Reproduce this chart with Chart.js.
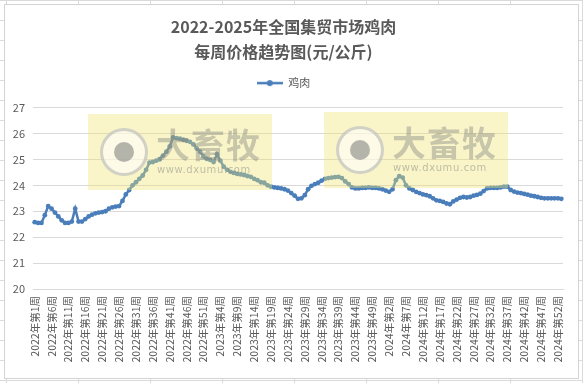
<!DOCTYPE html>
<html><head><meta charset="utf-8">
<script src="https://cdn.jsdelivr.net/npm/chart.js@4/dist/chart.umd.min.js"></script>
<style>
html,body{margin:0;padding:0;background:#fff;}
#wrap{position:relative;width:583px;height:383px;overflow:hidden;
  background-color:#fff;
  background-image:linear-gradient(to right, #dadada 1px, transparent 1px), linear-gradient(to bottom, #dadada 1px, transparent 1px);
  background-size:72px 20px;background-position:6px 0;}
#box{position:absolute;left:4px;top:4px;width:573px;height:373px;background:#fff;border:1px solid #d4d4d4;}
#c{position:absolute;left:0;top:0;}
.wm{position:absolute;width:184px;height:76px;background:rgba(238,228,110,0.38);pointer-events:none;}
.wm .ring{position:absolute;left:12px;top:14px;width:42px;height:42px;border-radius:50%;border:3px solid rgba(150,150,150,0.42);background:rgba(255,255,255,0.55);}
.wm .dot{position:absolute;left:11px;top:11px;width:20px;height:20px;border-radius:50%;background:rgba(110,110,110,0.5);}
.wm .big{position:absolute;left:68px;top:10px;font:bold 34px "Noto Sans CJK SC";color:rgba(120,120,120,0.38);letter-spacing:1px;line-height:40px;}
.wm .small{position:absolute;left:69px;top:50px;font:10px "DejaVu Sans";color:rgba(120,120,120,0.45);letter-spacing:0.6px;}
</style></head>
<body>
<div id="wrap">
<div id="box"></div>
<canvas id="c" width="583" height="383"></canvas>
<div class="wm" style="left:88px;top:114px"><div class="ring"><div class="dot"></div></div><div class="big">大畜牧</div><div class="small">www.dxumu.com</div></div>
<div class="wm" style="left:324px;top:112px"><div class="ring"><div class="dot"></div></div><div class="big">大畜牧</div><div class="small">www.dxumu.com</div></div>
</div>
<script>
const titleLines = ['2022-2025年全国集贸市场鸡肉', '每周价格趋势图(元/公斤)'];
const seriesName = '鸡肉';
const years = [2022, 2023, 2024, 2025];
const weeksPerYear = [52, 52, 52, 1];
const yTicks = [20, 21, 22, 23, 24, 25, 26, 27];
const chickenPrice = [
22.58,22.55,22.55,22.85,23.2,23.1,22.95,22.8,22.65,22.55,
22.55,22.6,23.1,22.6,22.6,22.7,22.8,22.87,22.92,22.95,
22.97,23.0,23.1,23.15,23.18,23.2,23.4,23.65,23.82,24.0,
24.12,24.25,24.38,24.6,24.88,24.9,24.95,25.0,25.15,25.3,
25.5,25.85,25.82,25.8,25.76,25.72,25.68,25.58,25.42,25.3,
25.12,25.02,24.98,24.9,25.2,24.95,24.72,24.6,24.52,24.48,
24.44,24.42,24.4,24.36,24.33,24.25,24.2,24.12,24.1,24.0,
23.95,23.92,23.9,23.88,23.85,23.8,23.7,23.6,23.48,23.5,
23.62,23.85,23.98,24.05,24.1,24.18,24.25,24.28,24.3,24.32,
24.33,24.28,24.15,24.05,23.92,23.88,23.88,23.9,23.9,23.92,
23.9,23.9,23.88,23.85,23.8,23.75,23.85,24.2,24.35,24.3,
24.0,23.88,23.82,23.75,23.7,23.65,23.62,23.58,23.5,23.42,
23.4,23.36,23.3,23.27,23.38,23.45,23.52,23.55,23.53,23.55,
23.6,23.63,23.68,23.78,23.88,23.9,23.9,23.9,23.92,23.95,
23.95,23.82,23.76,23.72,23.7,23.67,23.64,23.6,23.58,23.55,
23.52,23.5,23.5,23.5,23.5,23.5,23.48
];
const weekLabels = [];
years.forEach((y, k) => { for (let w = 1; w <= weeksPerYear[k]; w++) weekLabels.push(y + '年第' + w + '周'); });

const BLUE = '#4a7ebb';
const GRAY = '#595959';
const FONT = '"Noto Sans CJK SC", "Noto Sans", sans-serif';

const mk = document.createElement('canvas');
mk.width = 26; mk.height = 8;
const mc = mk.getContext('2d');
mc.strokeStyle = BLUE; mc.lineWidth = 2.5;
mc.beginPath(); mc.moveTo(0, 4); mc.lineTo(26, 4); mc.stroke();
mc.fillStyle = BLUE; mc.beginPath(); mc.arc(13, 4, 3, 0, Math.PI * 2); mc.fill();

const spacer = {
  id: 'spacer',
  start(chart) {
    Chart.layouts.addBox(chart, {
      position: 'top', weight: 0, fullSize: true,
      options: { stackWeight: 1 },
      top: 0, left: 0, right: 0, bottom: 0, width: 0, height: 0,
      isHorizontal() { return true; },
      update(maxWidth) { this.width = maxWidth; this.height = 9; },
      getPadding() { return { top: 0, left: 0, right: 0, bottom: 0 }; },
      draw() {}
    });
  }
};

new Chart(document.getElementById('c'), {
  type: 'line',
  data: {
    labels: weekLabels,
    datasets: [{
      label: seriesName,
      data: chickenPrice,
      borderColor: BLUE,
      backgroundColor: BLUE,
      borderWidth: 2.5,
      pointRadius: 2.4,
      pointBorderWidth: 0,
      pointBackgroundColor: BLUE,
      tension: 0
    }]
  },
  plugins: [spacer],
  options: {
    responsive: false,
    animation: false,
    layout: { padding: { left: 4, right: 20, top: 0, bottom: 8 } },
    plugins: {
      title: {
        display: true,
        text: titleLines,
        color: GRAY,
        font: { family: FONT, size: 16, weight: 'bold', lineHeight: 1.55 },
        padding: { top: 15, bottom: 5 }
      },
      legend: {
        display: true,
        position: 'top',
        labels: {
          color: GRAY,
          font: { family: FONT, size: 11 },
          usePointStyle: true,
          pointStyleWidth: 26,
          boxHeight: 8,
          padding: 8,
          generateLabels: () => [{ text: seriesName, pointStyle: mk, fontColor: GRAY, hidden: false, datasetIndex: 0, lineWidth: 0, strokeStyle: 'rgba(0,0,0,0)', fillStyle: 'rgba(0,0,0,0)' }]
        }
      },
      tooltip: { enabled: false }
    },
    scales: {
      x: {
        offset: true,
        grid: { display: false, drawTicks: false },
        border: { display: true, color: '#d9d9d9' },
        afterFit: s => { s.height = 86; },
        ticks: {
          autoSkip: false, maxRotation: 90, minRotation: 90,
          color: GRAY, padding: 7,
          font: { family: FONT, size: 10.5 },
          callback: (v, i) => (i % 5 === 0 ? weekLabels[i] : '')
        }
      },
      y: {
        min: 20, max: 27,
        afterFit: s => { s.width = 29; },
        afterBuildTicks: s => { s.ticks = yTicks.map(v => ({ value: v })); },
        grid: { color: '#d9d9d9', drawTicks: false, lineWidth: 1 },
        border: { display: false },
        ticks: { color: GRAY, padding: 8, font: { family: FONT, size: 11 } }
      }
    }
  }
});
</script>
</body></html>
